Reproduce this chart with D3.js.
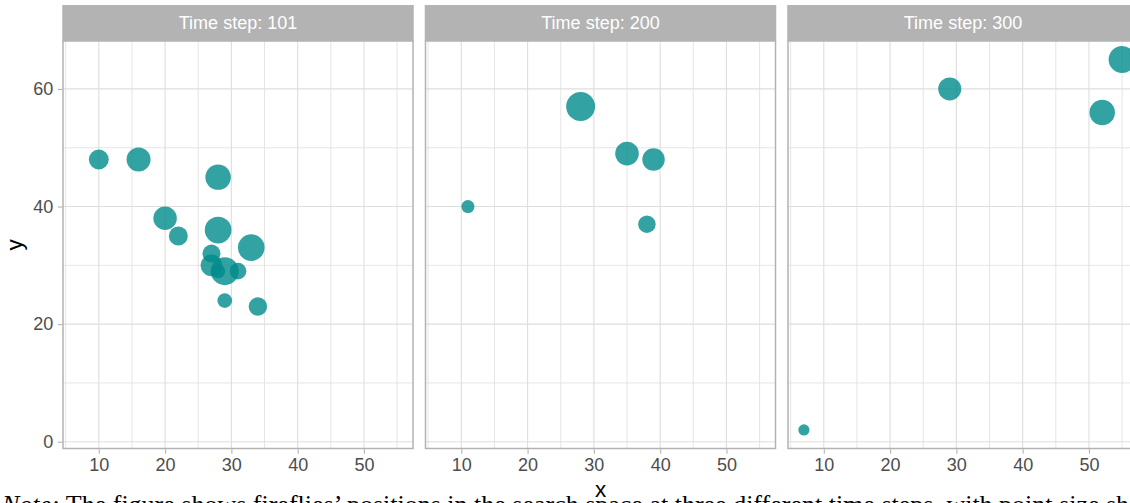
<!DOCTYPE html>
<html>
<head>
<meta charset="utf-8">
<script src="https://cdn.jsdelivr.net/npm/d3@7"></script>
<style>
  html, body { margin: 0; padding: 0; background: #ffffff; }
  svg { display: block; }
</style>
</head>
<body>
<svg id="chart" width="1130" height="503"></svg>
<script>
// Firefly positions at three time steps; brightness sets the point area.
const timeSteps = [101, 200, 300];

const x101 = [10, 16, 28, 20, 22, 28, 33, 27, 27, 29, 28, 31, 29, 34];
const y101 = [48, 48, 45, 38, 35, 36, 33, 32, 30, 29, 29, 29, 24, 23];
const b101 = [44, 64, 72, 61, 40, 79, 79, 36, 52, 87, 22, 31, 24, 38];

const x200 = [11, 28, 35, 39, 38];
const y200 = [40, 57, 49, 48, 37];
const b200 = [19, 93, 62, 56, 34];

const x300 = [29, 52, 55, 7];
const y300 = [60, 56, 65, 2];
const b300 = [59, 72, 81, 14];

const xTicks = [10, 20, 30, 40, 50];
const xMinor = [5, 15, 25, 35, 45, 55];
const yTicks = [0, 20, 40, 60];
const yMinor = [10, 30, 50];

const panelsData = [
  { step: timeSteps[0], xs: x101, ys: y101, bs: b101 },
  { step: timeSteps[1], xs: x200, ys: y200, bs: b200 },
  { step: timeSteps[2], xs: x300, ys: y300, bs: b300 }
];

// Layout
const panelW = 350;
const panelLefts = [63, 425.5, 788];
const stripTop = 5, stripH = 36;
const panelTop = stripTop + stripH, panelBottom = 448.5;

const allX = x101.concat(x200, x300);
const allY = y101.concat(y200, y300);
const xExt = d3.extent(allX), yExt = d3.extent(allY);
const xPad = (xExt[1] - xExt[0]) * 0.05, yPad = (yExt[1] - yExt[0]) * 0.05;

const x = d3.scaleLinear().domain([xExt[0] - xPad, xExt[1] + xPad]).range([0, panelW]);
const y = d3.scaleLinear().domain([yExt[0] - yPad, yExt[1] + yPad]).range([panelBottom - panelTop, 0]);
const r = d3.scaleSqrt().domain([0, 100]).range([0, 15]);

const svg = d3.select("#chart");
const font = "'Liberation Sans', Arial, Helvetica, sans-serif";
const gridCol = "#DEDEDE";
const frameCol = "#B3B3B3";
const panelH = panelBottom - panelTop;

svg.append("defs").append("clipPath").attr("id", "panelClip")
  .append("rect").attr("x", 0).attr("y", 0).attr("width", panelW).attr("height", panelH);

panelsData.forEach((p, i) => {
  const g = svg.append("g").attr("transform", `translate(${panelLefts[i]},${panelTop})`);

  // gridlines: minor first, then major
  g.selectAll(".gxm").data(xMinor).join("line")
    .attr("x1", d => x(d)).attr("x2", d => x(d)).attr("y1", 0).attr("y2", panelH)
    .attr("stroke", gridCol).attr("stroke-width", 0.8);
  g.selectAll(".gym").data(yMinor).join("line")
    .attr("y1", d => y(d)).attr("y2", d => y(d)).attr("x1", 0).attr("x2", panelW)
    .attr("stroke", gridCol).attr("stroke-width", 0.8);
  g.selectAll(".gx").data(xTicks).join("line")
    .attr("x1", d => x(d)).attr("x2", d => x(d)).attr("y1", 0).attr("y2", panelH)
    .attr("stroke", gridCol).attr("stroke-width", 1.1);
  g.selectAll(".gy").data(yTicks).join("line")
    .attr("y1", d => y(d)).attr("y2", d => y(d)).attr("x1", 0).attr("x2", panelW)
    .attr("stroke", gridCol).attr("stroke-width", 1.1);

  // points
  const pts = p.xs.map((xv, k) => ({ x: xv, y: p.ys[k], b: p.bs[k] }));
  g.append("g").attr("clip-path", "url(#panelClip)")
    .selectAll("circle").data(pts).join("circle")
    .attr("cx", d => x(d.x)).attr("cy", d => y(d.y)).attr("r", d => r(d.b))
    .attr("fill", "#008B8B").attr("fill-opacity", 0.8);

  // panel frame
  g.append("rect").attr("x", 0).attr("y", 0).attr("width", panelW).attr("height", panelH)
    .attr("fill", "none").attr("stroke", frameCol).attr("stroke-width", 1.5);

  // strip
  svg.append("rect").attr("x", panelLefts[i] - 0.75).attr("y", stripTop)
    .attr("width", panelW + 1.5).attr("height", stripH).attr("fill", "#B3B3B3");
  svg.append("text").attr("x", panelLefts[i] + panelW / 2).attr("y", stripTop + stripH / 2)
    .attr("dy", "0.36em").attr("text-anchor", "middle")
    .attr("font-family", font).attr("font-size", 18).attr("fill", "#ffffff")
    .text(`Time step: ${p.step}`);

  // x axis
  const xa = g.append("g").attr("transform", `translate(0,${panelH + 0.75})`)
    .call(d3.axisBottom(x).tickValues(xTicks).tickSize(4.5).tickPadding(4));
  xa.select(".domain").remove();
  xa.selectAll(".tick line").attr("stroke", frameCol).attr("stroke-width", 1.1);
  xa.selectAll(".tick text").attr("font-family", font).attr("font-size", 18).attr("fill", "#4D4D4D");

  // y axis on the first panel only
  if (i === 0) {
    const ya = g.append("g").attr("transform", "translate(-0.75,0)")
      .call(d3.axisLeft(y).tickValues(yTicks).tickSize(4.5).tickPadding(4.5));
    ya.select(".domain").remove();
    ya.selectAll(".tick line").attr("stroke", frameCol).attr("stroke-width", 1.1);
    ya.selectAll(".tick text").attr("font-family", font).attr("font-size", 18).attr("fill", "#4D4D4D");
  }
});

// axis titles
svg.append("text").attr("x", panelLefts[1] + panelW / 2).attr("y", 497)
  .attr("text-anchor", "middle").attr("font-family", font).attr("font-size", 22.5)
  .attr("fill", "#000000").text("x");
svg.append("text").attr("transform", `translate(22,${(panelTop + panelBottom) / 2}) rotate(-90)`)
  .attr("text-anchor", "middle").attr("font-family", font).attr("font-size", 22.5)
  .attr("fill", "#000000").text("y");

// caption below the figure
const note = svg.append("text").attr("x", 2).attr("y", 513)
  .attr("font-family", "'Liberation Serif', 'Times New Roman', serif").attr("font-size", 26)
  .attr("fill", "#000000");
note.append("tspan").attr("font-style", "italic").text("Note:");
note.append("tspan").text(" The figure shows fireflies’ positions in the search space at three different time steps, with point size showing brightness.");
</script>
</body>
</html>
